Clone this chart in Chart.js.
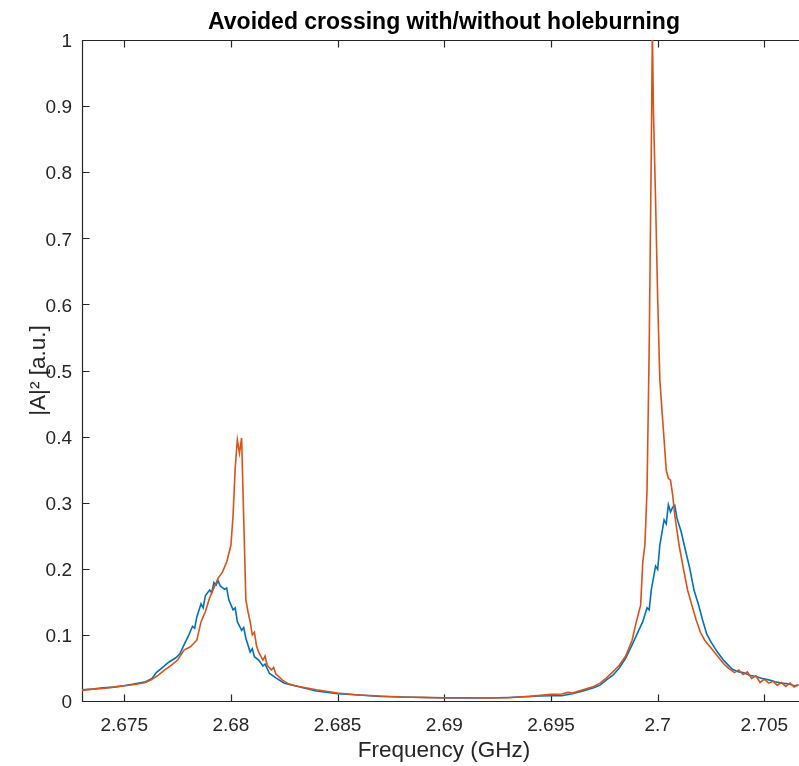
<!DOCTYPE html>
<html>
<head>
<meta charset="utf-8">
<script src="https://cdn.jsdelivr.net/npm/chart.js@4.4.1/dist/chart.umd.min.js"></script>
<style>
  html, body { margin: 0; padding: 0; background: #ffffff; overflow: hidden; }
  #wrap { width: 808px; height: 766px; }
</style>
</head>
<body>
<div id="wrap"><canvas id="c" width="808" height="766"></canvas></div>
<script>
// ---------- data ----------
const chartTitle = 'Avoided crossing with/without holeburning';
const xAxisLabel = 'Frequency (GHz)';
const yAxisLabel = '|A|\u00B2 [a.u.]';

const xTickValues = [2.675, 2.68, 2.685, 2.69, 2.695, 2.7, 2.705];
const xTickLabels = ['2.675', '2.68', '2.685', '2.69', '2.695', '2.7', '2.705'];
const yTickValues = [0, 0.1, 0.2, 0.3, 0.4, 0.5, 0.6, 0.7, 0.8, 0.9, 1];
const yTickLabels = ['0', '0.1', '0.2', '0.3', '0.4', '0.5', '0.6', '0.7', '0.8', '0.9', '1'];
const xRange = [2.67302, 2.70695];
const yRange = [0, 1];

// without holeburning (blue)
const blueFreq = [
  2.6730, 2.6735, 2.6740, 2.6745, 2.6750, 2.6755, 2.6760, 2.6763, 2.6765, 2.6768,
  2.6771, 2.6774, 2.6776, 2.6778, 2.6780, 2.6782, 2.6783, 2.6784, 2.6786, 2.6787,
  2.6788, 2.6790, 2.6791, 2.6792, 2.6793, 2.6794, 2.6795, 2.6797, 2.6798, 2.6799,
  2.6801, 2.6802, 2.6803, 2.6805, 2.6806, 2.6807, 2.6809, 2.6810, 2.6811, 2.6813,
  2.6815, 2.6816, 2.6818, 2.6821, 2.6825, 2.6830, 2.6840, 2.6850, 2.6860,
  2.6870, 2.6880, 2.6890, 2.6900, 2.6910, 2.6920, 2.6930, 2.6940, 2.6945, 2.6950,
  2.6955, 2.6960, 2.6965, 2.6970, 2.6973, 2.6976, 2.6979, 2.6982, 2.6985, 2.6988,
  2.6991, 2.6993, 2.6995, 2.6996, 2.6997, 2.6999, 2.7000, 2.7001, 2.7003, 2.7004,
  2.7005, 2.7006, 2.7007, 2.7008, 2.7009, 2.7011, 2.7013, 2.7015, 2.7017, 2.7019,
  2.7021, 2.7023, 2.7025, 2.7028, 2.7031, 2.7035, 2.7038, 2.7040, 2.7043, 2.7046,
  2.7049, 2.7052, 2.7055, 2.7058, 2.7061, 2.7064, 2.7066
];
const blueAmp = [
  0.017, 0.018, 0.020, 0.021, 0.023, 0.026, 0.029, 0.034, 0.043, 0.051,
  0.059, 0.065, 0.071, 0.085, 0.098, 0.113, 0.110, 0.127, 0.147, 0.141,
  0.159, 0.168, 0.164, 0.179, 0.175, 0.182, 0.174, 0.169, 0.171, 0.153,
  0.138, 0.141, 0.120, 0.107, 0.111, 0.095, 0.074, 0.079, 0.067, 0.062,
  0.053, 0.056, 0.042, 0.035, 0.027, 0.023, 0.015, 0.011, 0.009,
  0.0068, 0.006, 0.0053, 0.0045, 0.0045, 0.0045, 0.0053, 0.0068, 0.0076, 0.008,
  0.008, 0.011, 0.015, 0.020, 0.024, 0.032, 0.039, 0.050, 0.065, 0.085,
  0.106, 0.120, 0.141, 0.138, 0.168, 0.204, 0.199, 0.236, 0.274, 0.268,
  0.297, 0.286, 0.293, 0.296, 0.277, 0.256, 0.228, 0.201, 0.168, 0.147,
  0.123, 0.101, 0.089, 0.074, 0.061, 0.048, 0.044, 0.043, 0.039, 0.037,
  0.034, 0.032, 0.029, 0.027, 0.026, 0.023, 0.024
];

// with holeburning (orange)
const orangeFreq = [
  2.6730, 2.6735, 2.6740, 2.6745, 2.6750, 2.6755, 2.6760, 2.6763, 2.6766, 2.6769,
  2.6772, 2.6775, 2.6778, 2.6781, 2.6784, 2.6786, 2.6788, 2.6790, 2.6792, 2.6794,
  2.6796, 2.6798, 2.6800, 2.6801, 2.6802, 2.6803, 2.6804, 2.6805, 2.6806, 2.6807,
  2.6808, 2.6809, 2.6810, 2.6811, 2.6812, 2.6813, 2.6815, 2.6816, 2.6817, 2.6819,
  2.6820, 2.6821, 2.6824, 2.6827,
  2.6830, 2.6840, 2.6850, 2.6860, 2.6870, 2.6880, 2.6890, 2.6900, 2.6910, 2.6920,
  2.6930, 2.6940, 2.6945, 2.6950, 2.6955, 2.6958, 2.6960, 2.6965, 2.6970, 2.6973,
  2.6976, 2.6979, 2.6982, 2.6985, 2.6988, 2.6990, 2.6992, 2.6993, 2.6994, 2.6995,
  2.6996, 2.6997, 2.69975, 2.6998, 2.6999, 2.7000, 2.7001, 2.7002, 2.7003, 2.7004,
  2.7005, 2.7006, 2.7007, 2.7008, 2.7010, 2.7012, 2.7014, 2.7016, 2.7018, 2.7020,
  2.7022, 2.7025, 2.7028, 2.7031, 2.7033, 2.7036, 2.7038, 2.7040, 2.7042, 2.7044,
  2.7046, 2.7048, 2.7050, 2.7052, 2.7054, 2.7056, 2.7058, 2.7060, 2.7062, 2.7064,
  2.7066
];
const orangeAmp = [
  0.016, 0.018, 0.019, 0.021, 0.023, 0.025, 0.028, 0.033, 0.039, 0.047,
  0.054, 0.062, 0.077, 0.082, 0.092, 0.120, 0.135, 0.156, 0.171, 0.186,
  0.195, 0.210, 0.236, 0.281, 0.352, 0.395, 0.375, 0.398, 0.274, 0.153,
  0.135, 0.120, 0.100, 0.104, 0.083, 0.074, 0.062, 0.068, 0.054, 0.047,
  0.051, 0.041, 0.032, 0.026,
  0.023, 0.017, 0.012, 0.009, 0.0075, 0.006, 0.0055, 0.005, 0.005, 0.0045,
  0.005, 0.007, 0.0085, 0.010, 0.0105, 0.013, 0.012, 0.017, 0.022, 0.027,
  0.035, 0.044, 0.054, 0.068, 0.092, 0.120, 0.145, 0.210, 0.236, 0.319,
  0.531, 0.834, 1.015, 0.894, 0.758, 0.607, 0.486, 0.440, 0.395, 0.349,
  0.337, 0.334, 0.312, 0.281, 0.236, 0.201, 0.168, 0.145, 0.123, 0.104,
  0.092, 0.080, 0.068, 0.056, 0.050, 0.043, 0.047, 0.040, 0.044, 0.034,
  0.038, 0.028, 0.033, 0.027, 0.030, 0.024, 0.028, 0.022, 0.027, 0.021,
  0.025
];

// ---------- styles ----------
const axisColor = '#262626';
const fontFamily = '"Liberation Sans", Arial, Helvetica, sans-serif';

const toPoints = (xs, ys) => xs.map((x, i) => ({ x: x, y: ys[i] }));

const matlabAxes = {
  id: 'matlabAxes',
  beforeDatasetsDraw(chart) {
    const { ctx, chartArea: a, scales: { x, y } } = chart;
    const L = Math.round(a.left) + 0.5, R = Math.round(a.right) + 0.5;
    const T = Math.round(a.top) + 0.5, B = Math.round(a.bottom) + 0.5;
    const tl = 7;
    ctx.save();
    ctx.strokeStyle = axisColor;
    ctx.lineWidth = 1.2;
    ctx.beginPath();
    ctx.rect(L, T, R - L, B - T);
    ctx.stroke();
    ctx.beginPath();
    xTickValues.forEach(v => {
      const px = Math.round(x.getPixelForValue(v)) + 0.5;
      ctx.moveTo(px, B); ctx.lineTo(px, B - tl);
      ctx.moveTo(px, T); ctx.lineTo(px, T + tl);
    });
    yTickValues.forEach(v => {
      const py = Math.round(y.getPixelForValue(v)) + 0.5;
      ctx.moveTo(L, py); ctx.lineTo(L + tl, py);
      ctx.moveTo(R, py); ctx.lineTo(R - tl, py);
    });
    ctx.stroke();
    ctx.restore();
  },
  afterDraw(chart) {
    const { ctx, chartArea: a } = chart;
    ctx.save();
    ctx.fillStyle = '#000000';
    ctx.font = 'bold 23px ' + fontFamily;
    ctx.textAlign = 'center';
    ctx.textBaseline = 'middle';
    ctx.fillText(chartTitle, (a.left + a.right) / 2, 23);
    ctx.restore();
  }
};

new Chart(document.getElementById('c'), {
  type: 'line',
  data: {
    datasets: [
      {
        label: 'without holeburning',
        data: toPoints(blueFreq, blueAmp),
        borderColor: '#0072BD',
        borderWidth: 1.6,
        pointRadius: 0,
        tension: 0,
        fill: false,
        order: 2
      },
      {
        label: 'with holeburning',
        data: toPoints(orangeFreq, orangeAmp),
        borderColor: '#D95319',
        borderWidth: 1.6,
        pointRadius: 0,
        tension: 0,
        fill: false,
        order: 1
      }
    ]
  },
  options: {
    responsive: false,
    animation: false,
    devicePixelRatio: 1,
    layout: { padding: { left: 0, right: 2, top: 40, bottom: 0 } },
    plugins: {
      legend: { display: false },
      tooltip: { enabled: false },
      title: { display: false }
    },
    scales: {
      x: {
        type: 'linear',
        min: xRange[0],
        max: xRange[1],
        grid: { display: false, drawTicks: false },
        border: { display: false },
        afterBuildTicks: s => { s.ticks = xTickValues.map(v => ({ value: v })); },
        afterFit: s => { s.height = 65; },
        ticks: {
          color: axisColor,
          font: { family: fontFamily, size: 19 },
          padding: 13,
          maxRotation: 0,
          autoSkip: false,
          callback: (v) => { const i = xTickValues.indexOf(v); return i >= 0 ? xTickLabels[i] : ''; }
        },
        title: {
          display: true,
          text: xAxisLabel,
          color: axisColor,
          font: { family: fontFamily, size: 22.5 },
          padding: { top: 0, bottom: 2 }
        }
      },
      y: {
        type: 'linear',
        min: yRange[0],
        max: yRange[1],
        grid: { display: false, drawTicks: false },
        border: { display: false },
        afterBuildTicks: s => { s.ticks = yTickValues.map(v => ({ value: v })); },
        afterFit: s => { s.width = 82; },
        ticks: {
          color: axisColor,
          font: { family: fontFamily, size: 19 },
          padding: 10,
          labelOffset: 2,
          autoSkip: false,
          callback: (v) => { const i = yTickValues.indexOf(v); return i >= 0 ? yTickLabels[i] : ''; }
        },
        title: {
          display: true,
          text: yAxisLabel,
          color: axisColor,
          font: { family: fontFamily, size: 22.5 },
          padding: { top: 25, bottom: 0 }
        }
      }
    }
  },
  plugins: [matlabAxes]
});
</script>
</body>
</html>
